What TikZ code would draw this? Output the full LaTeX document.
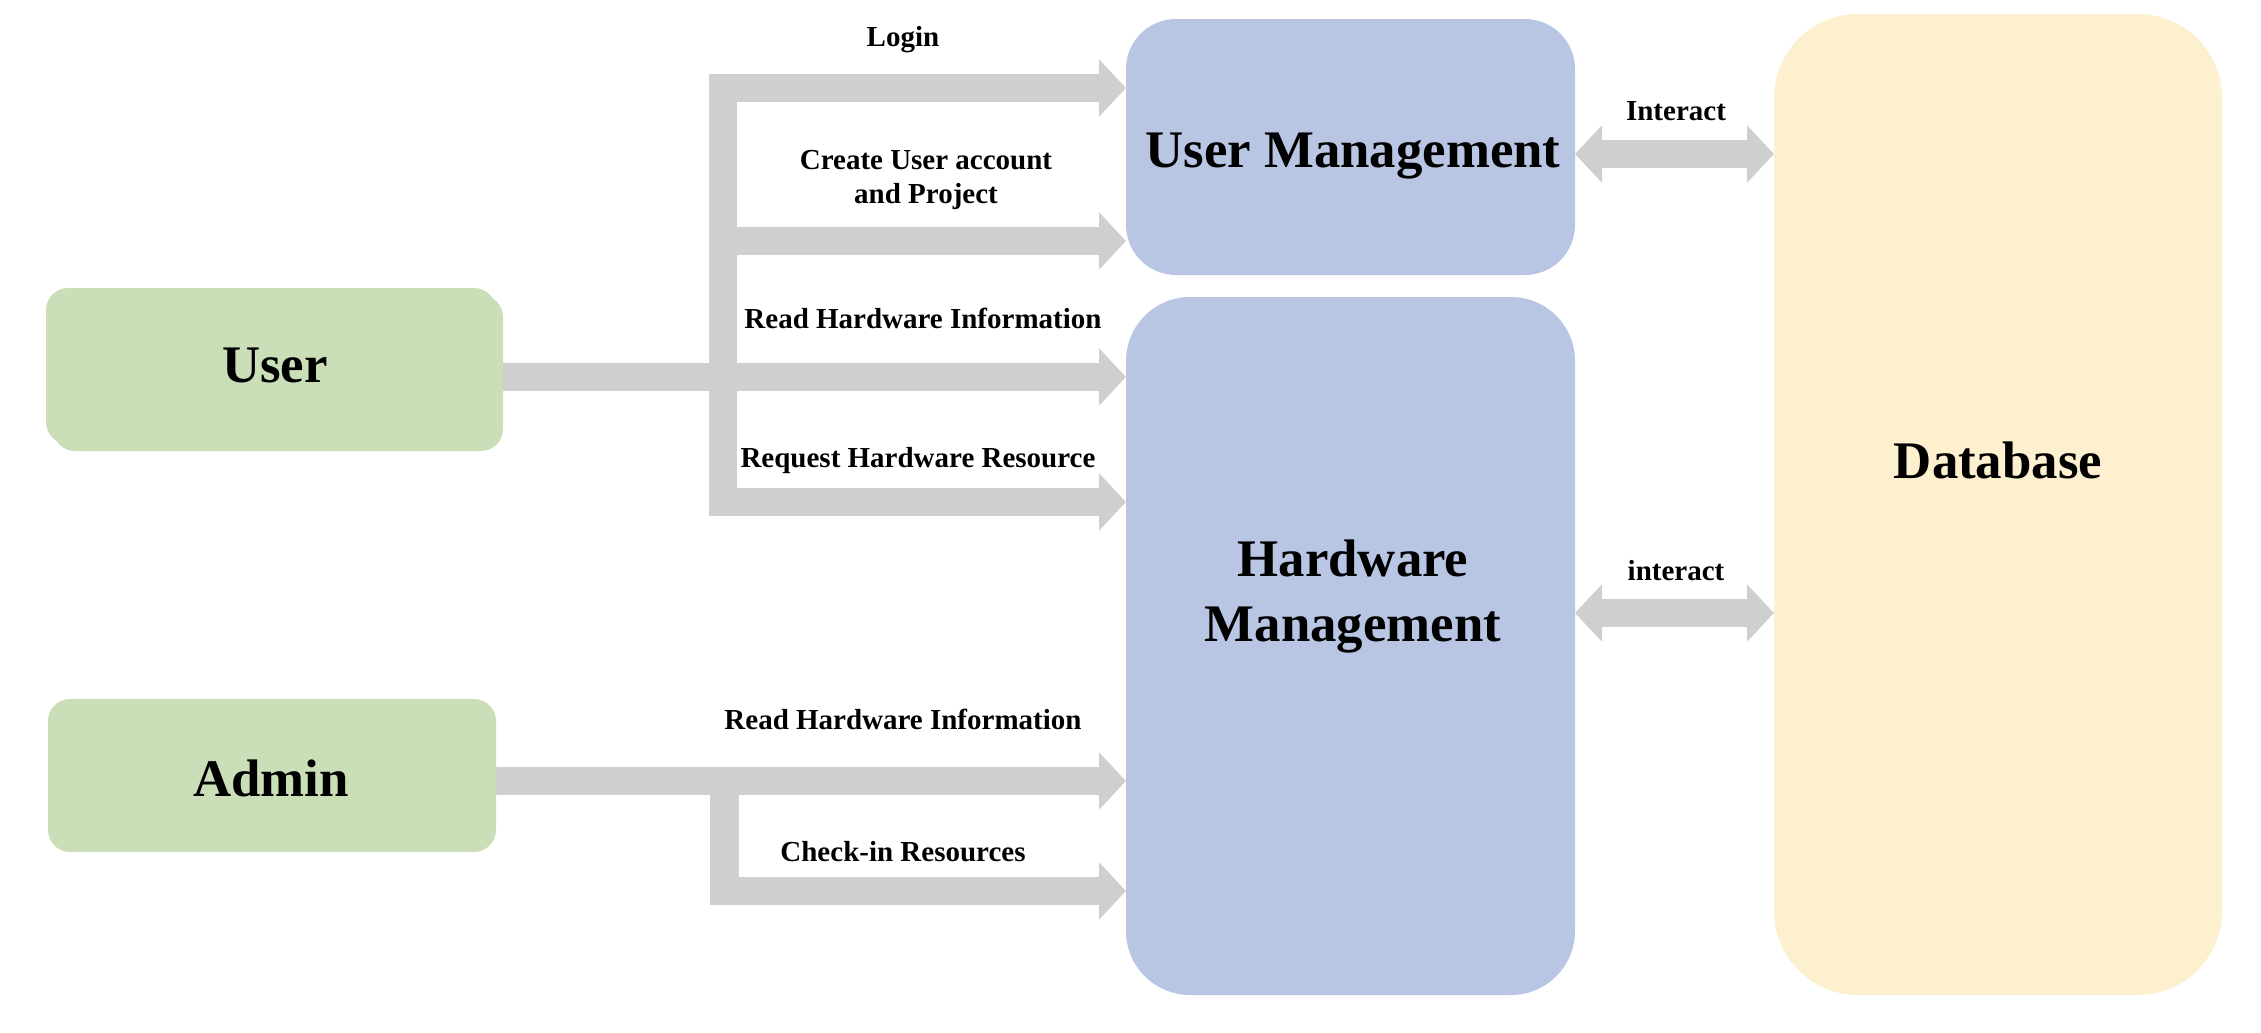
\documentclass[tikz,border=0pt]{standalone}
\usepackage{fontspec}
\setmainfont{Liberation Serif}
\usetikzlibrary{arrows.meta}
\definecolor{ugreen}{HTML}{CADFB8}
\definecolor{ublue}{HTML}{B8C6E4}
\definecolor{uyellow}{HTML}{FCF0CF}
\definecolor{ugray}{HTML}{D0CFCF}
\begin{document}
\begin{tikzpicture}[x=0.5pt,y=-0.5pt,
  box/.style={inner sep=0pt, outer sep=0pt, draw=none},
  greenbox/.style={box, fill=ugreen, rounded corners=11pt, minimum width=225pt, minimum height=78pt},
  arr/.style={draw=ugray, line width=14.2pt, -{Triangle[length=13.5pt,width=28pt]}},
  darr/.style={draw=ugray, line width=14.2pt, {Triangle[length=13.5pt,width=28pt]}-{Triangle[length=13.5pt,width=28pt]}},
  barline/.style={draw=ugray, line width=14.2pt},
  big/.style={font=\fontsize{26.4}{32.5}\selectfont\bfseries, align=center},
  lbl/.style={font=\fontsize{14.5}{17.3}\selectfont\bfseries, align=center}]
\useasboundingbox (0,0) rectangle (2261,1033);
% boxes
\node[greenbox] (usershadow) at (278,373) {};
\node[greenbox] (user) at (271,366) {};
\node[big] (usertext) at (275,365) {User};
\node[greenbox, minimum width=224pt, minimum height=76.5pt] (admin) at (272,775.5) {};
\node[big] (admintext) at (271,778) {Admin};
\node[box, fill=ublue, rounded corners=25pt, minimum width=224.5pt, minimum height=128pt] (um) at (1350.5,147) {};
\node[big] (umtext) at (1353,156) {User Management};
\node[box, fill=ublue, rounded corners=32pt, minimum width=224.5pt, minimum height=349pt] (hw) at (1350.5,646) {};
\node[big] (hwtext) at (1353,597) {Hardware\\Management};
\node[box, fill=uyellow, rounded corners=42pt, minimum width=224pt, minimum height=490.5pt] (db) at (1998,504.5) {};
\node[big] (dbtext) at (1998,460) {Database};
% user connectors
\coordinate (vt) at (723.2,73.8);
\coordinate (vb) at (723.2,516.2);
\coordinate (jlogin) at (709,88);
\coordinate (jcreate) at (723,241);
\coordinate (jread) at (723,377);
\coordinate (jreq) at (709,502);
\draw[barline] (vt) -- (vb);
\draw[arr] (jlogin) -- (um.west |- jlogin);
\draw[arr] (jcreate) -- (um.west |- jcreate);
\draw[arr] (usershadow.east |- jread) -- (hw.west |- jread);
\draw[arr] (jreq) -- (hw.west |- jreq);
% admin connectors
\coordinate (at) at (724.5,781);
\coordinate (ab) at (724.5,905.2);
\coordinate (jcheck) at (710.3,891);
\draw[arr] (admin.east |- at) -- (hw.west |- at);
\draw[barline] (at) -- (ab);
\draw[arr] (jcheck) -- (hw.west |- jcheck);
% database interactions
\coordinate (i1) at (1600,154);
\coordinate (i2) at (1600,613);
\draw[darr] (um.east |- i1) -- (db.west |- i1);
\draw[darr] (hw.east |- i2) -- (db.west |- i2);
% labels
\node[lbl] (llogin) at (903,40) {Login};
\node[lbl] (lcreate) at (926,180) {Create User account\\and Project};
\node[lbl] (lread) at (923,318) {Read Hardware Information};
\node[lbl] (lreq) at (918,461) {Request Hardware Resource};
\node[lbl] (laread) at (903,719) {Read Hardware Information};
\node[lbl] (lcheck) at (903,852) {Check-in Resources};
\node[lbl] (lint1) at (1676,111) {Interact};
\node[lbl] (lint2) at (1676,571) {interact};
\end{tikzpicture}
\end{document}
